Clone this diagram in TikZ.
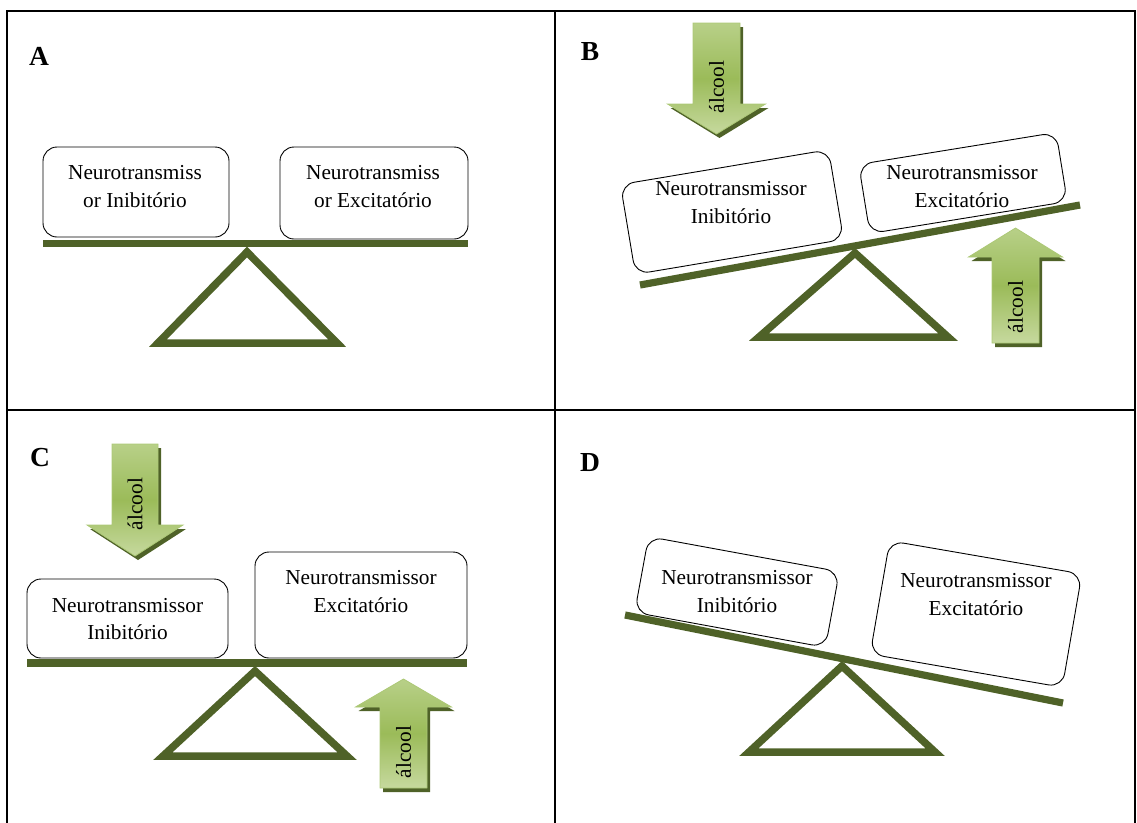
\documentclass[tikz,border=0pt]{standalone}
\usepackage{fontspec}
\setmainfont{Liberation Serif}
\definecolor{beamgreen}{RGB}{79,98,40}
\definecolor{arrowshadow}{RGB}{79,98,40}
\definecolor{arrowtop}{RGB}{184,208,136}
\definecolor{arrowlight}{RGB}{198,217,158}
\definecolor{arrowmid}{RGB}{155,187,89}
\definecolor{arrowedge}{RGB}{172,200,118}
\tikzset{
  frame/.style={draw=black, line width=1.8pt},
  nbox/.style={draw=black, line width=0.9pt, rounded corners=14pt, fill=white, inner sep=0pt},
  ntext/.style={align=center, inner sep=0pt, font=\fontsize{21.3}{27.5}\selectfont},
  plabel/.style={inner sep=0pt, font=\fontsize{27.5}{30}\selectfont\bfseries},
  beam/.style={draw=beamgreen, line width=7.2pt},
  fulcrum/.style={draw=beamgreen, line width=7.5pt, line join=miter},
  arrowfill/.style={top color=arrowtop, bottom color=arrowlight, middle color=arrowmid},
  arrowline/.style={draw=arrowedge, line width=0.8pt},
  alctext/.style={inner sep=0pt, font=\fontsize{21.3}{25}\selectfont, rotate=90}
}
% #1 name, #2 centre x, #3 shaft half width, #4 tail y, #5 wing y, #6 head half width, #7 tip y, #8 text y
\newcommand{\alcarrow}[8]{%
  \fill[arrowshadow, shift={(3,4)}] (#2-#3,#4) -- (#2+#3,#4) -- (#2+#3,#5) -- (#2+#6,#5) -- (#2,#7) -- (#2-#6,#5) -- (#2-#3,#5) -- cycle;
  \path[arrowfill] (#2-#3,#4) -- (#2+#3,#4) -- (#2+#3,#5) -- (#2+#6,#5) -- (#2,#7) -- (#2-#6,#5) -- (#2-#3,#5) -- cycle;
  \draw[arrowline] (#2-#3,#4) -- (#2+#3,#4) -- (#2+#3,#5) -- (#2+#6,#5) -- (#2,#7) -- (#2-#6,#5) -- (#2-#3,#5) -- cycle;
  \node[alctext] (#1) at (#2,#8) {álcool};
}
\begin{document}
\begin{tikzpicture}[x=1pt,y=-1pt]
\useasboundingbox (0,0) rectangle (1137,822);
% frame
\draw[frame] (7,11) rectangle (1135,830);
\draw[frame] (555,11) -- (555,830);
\draw[frame] (7,410) -- (1135,410);

% ---------- A ----------
\node[plabel] (labA) at (39,56) {A};
\draw[fulcrum] (247,252) -- (337,343) -- (158,343) -- cycle;
\coordinate (bA1) at (43,243.5);
\coordinate (bA2) at (468,243.5);
\draw[beam] (bA1) -- (bA2);
\node[nbox, minimum width=186pt, minimum height=90pt] (boxA1) at (136,192) {};
\node[nbox, minimum width=188pt, minimum height=92pt] (boxA2) at (374,193) {};
\node[ntext] (txtA1) at (135,186.5) {Neurotransmiss\\or Inibitório};
\node[ntext] (txtA2) at (373,186.5) {Neurotransmiss\\or Excitatório};

% ---------- B ----------
\node[plabel] (labB) at (590,52) {B};
\alcarrow{arrB1}{716.5}{23.5}{23}{104}{49}{134}{87}
\draw[fulcrum] (855,253) -- (948,337) -- (759,337) -- cycle;
\coordinate (bB1) at (640,285);
\coordinate (bB2) at (1080,205);
\draw[beam] (bB1) -- (bB2);
\node[nbox, rotate=9.5, minimum width=211pt, minimum height=91pt] (boxB1) at (732,212) {};
\node[nbox, rotate=9.2, minimum width=200pt, minimum height=70pt] (boxB2) at (963,183) {};
\node[ntext] (txtB1) at (731,202.5) {Neurotransmissor\\Inibitório};
\node[ntext] (txtB2) at (962,186.5) {Neurotransmissor\\Excitatório};
\alcarrow{arrB2}{1015.5}{23.5}{343}{257}{47}{228}{307}

% ---------- C ----------
\node[plabel] (labC) at (40,458) {C};
\alcarrow{arrC1}{135}{23}{444}{525}{48}{556}{504}
\draw[fulcrum] (255,671) -- (347,756) -- (163,756) -- cycle;
\coordinate (bC1) at (27,663);
\coordinate (bC2) at (467,663);
\draw[beam] (bC1) -- (bC2);
\node[nbox, minimum width=201pt, minimum height=79pt] (boxC1) at (127.5,618.5) {};
\node[nbox, minimum width=212pt, minimum height=106pt] (boxC2) at (361,605) {};
\node[ntext] (txtC1) at (127.5,619) {Neurotransmissor\\Inibitório};
\node[ntext] (txtC2) at (361,591.5) {Neurotransmissor\\Excitatório};
\alcarrow{arrC2}{403.5}{23.5}{788}{707}{48}{679}{752}

% ---------- D ----------
\node[plabel] (labD) at (590,463) {D};
\draw[fulcrum] (842,666) -- (935,752) -- (749,752) -- cycle;
\coordinate (bD1) at (625,615);
\coordinate (bD2) at (1063,703);
\draw[beam] (bD1) -- (bD2);
\node[nbox, rotate=-10.4, minimum width=194pt, minimum height=77pt] (boxD1) at (737,592) {};
\node[nbox, rotate=-9.8, minimum width=195pt, minimum height=115pt] (boxD2) at (976,614) {};
\node[ntext] (txtD1) at (737,591.5) {Neurotransmissor\\Inibitório};
\node[ntext] (txtD2) at (976,594.5) {Neurotransmissor\\Excitatório};
\end{tikzpicture}
\end{document}
